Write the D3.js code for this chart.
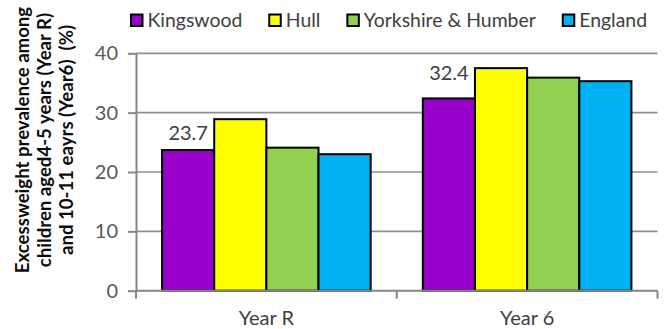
<!DOCTYPE html>
<html>
<head>
<meta charset="utf-8">
<script src="https://cdn.jsdelivr.net/npm/d3@7"></script>
<style>
  html, body { margin: 0; padding: 0; background: #fff; }
  svg { display: block; font-family: Lato, "Open Sans", sans-serif; }
</style>
</head>
<body>
<svg id="chart" width="667" height="329"></svg>
<script>
// Excess weight prevalence by area, Reception (Year R) and Year 6
const categories = ["Year R", "Year 6"];
const seriesNames = ["Kingswood", "Hull", "Yorkshire & Humber", "England"];
const seriesColors = ["#9900cc", "#ffff00", "#92d050", "#00b0f0"];
const kingswood = [23.7, 32.4];
const hull = [28.9, 37.5];
const yorkshireHumber = [24.1, 35.9];
const england = [23.0, 35.3];
const yTicks = [0, 10, 20, 30, 40];
const yTitleLines = [
  "Excessweight prevalence among",
  "children aged4-5 years (Year R)",
  "and 10-11 eayrs (Year6)  (%)"
];
// only the Kingswood series carries value labels
const labelledSeries = "Kingswood";

const seriesValues = [kingswood, hull, yorkshireHumber, england];
const rows = categories.map((c, i) => ({
  category: c,
  values: seriesNames.map((s, j) => ({ series: s, value: seriesValues[j][i], color: seriesColors[j] }))
}));

const svg = d3.select("#chart");
const plot = { left: 136, right: 657.5, top: 53.3, bottom: 290.7 };

const x0 = d3.scaleBand().domain(categories).range([plot.left, plot.right]).paddingInner(0).paddingOuter(0);
const x1 = d3.scaleBand().domain(seriesNames).range([0, x0.bandwidth()]).paddingInner(0).paddingOuter(0.5);
const y = d3.scaleLinear().domain([0, 40]).range([plot.bottom, plot.top]);

const axisGrey = "#868686";

// horizontal gridlines
svg.append("g")
  .selectAll("line")
  .data(yTicks.filter(t => t > 0))
  .join("line")
  .attr("x1", plot.left).attr("x2", plot.right)
  .attr("y1", d => y(d)).attr("y2", d => y(d))
  .attr("stroke", "#8f8f8f").attr("stroke-width", 1.7);

// value axis
const yAxis = svg.append("g")
  .attr("transform", `translate(${plot.left},0)`)
  .call(d3.axisLeft(y).tickValues(yTicks).tickSize(8).tickPadding(10).tickSizeOuter(0));
yAxis.select(".domain").attr("stroke", axisGrey).attr("stroke-width", 2);
yAxis.selectAll(".tick line").attr("stroke", axisGrey).attr("stroke-width", 2);
yAxis.selectAll(".tick text")
  .attr("font-family", "Lato, sans-serif").attr("font-size", 20).attr("fill", "#595959");

// bars
const groups = svg.append("g")
  .selectAll("g")
  .data(rows)
  .join("g")
  .attr("transform", d => `translate(${x0(d.category)},0)`);

groups.selectAll("rect")
  .data(d => d.values)
  .join("rect")
  .attr("x", d => x1(d.series))
  .attr("width", x1.bandwidth())
  .attr("y", d => y(d.value))
  .attr("height", d => y(0) - y(d.value))
  .attr("fill", d => d.color)
  .attr("stroke", "#000")
  .attr("stroke-width", 2);

// value labels above the Kingswood bars
const labelLift = { "Year R": 10, "Year 6": 18 };
groups.append("text")
  .datum(d => ({ category: d.category, v: d.values.find(v => v.series === labelledSeries) }))
  .attr("x", d => x1(d.v.series) + x1.bandwidth() / 2)
  .attr("y", d => y(d.v.value) - labelLift[d.category])
  .attr("text-anchor", "middle")
  .attr("font-size", 20)
  .attr("fill", "#404040")
  .text(d => d.v.value.toFixed(1));

// category axis
const xAxis = svg.append("g")
  .attr("transform", `translate(0,${plot.bottom})`);
xAxis.append("line")
  .attr("x1", plot.left).attr("x2", plot.right)
  .attr("stroke", axisGrey).attr("stroke-width", 2);
const boundaries = categories.map(c => x0(c)).concat([x0(categories[categories.length - 1]) + x0.bandwidth()]);
xAxis.selectAll("line.tick")
  .data(boundaries)
  .join("line")
  .attr("class", "tick")
  .attr("x1", d => d).attr("x2", d => d)
  .attr("y1", 0).attr("y2", 8)
  .attr("stroke", axisGrey).attr("stroke-width", 2);
xAxis.selectAll("text")
  .data(categories)
  .join("text")
  .attr("x", d => x0(d) + x0.bandwidth() / 2)
  .attr("y", 34.5)
  .attr("text-anchor", "middle")
  .attr("font-size", 20)
  .attr("fill", "#404040")
  .text(d => d);

// rotated value-axis title
const title = svg.append("text")
  .attr("transform", "translate(28.5,140) rotate(-90)")
  .attr("text-anchor", "middle")
  .attr("font-weight", 700)
  .attr("font-size", 18.6)
  .attr("fill", "#0d0d0d")
  .style("white-space", "pre");
title.selectAll("tspan")
  .data(yTitleLines)
  .join("tspan")
  .attr("x", 0)
  .attr("y", (d, i) => i * 22)
  .text(d => d);

// legend
const legend = svg.append("g").attr("transform", "translate(130,0)");
let cursor = 0;
seriesNames.forEach((name, i) => {
  const item = legend.append("g").attr("transform", `translate(${cursor},0)`);
  item.append("rect")
    .attr("x", 1).attr("y", 14.5)
    .attr("width", 11.5).attr("height", 11.5)
    .attr("fill", seriesColors[i])
    .attr("stroke", "#000").attr("stroke-width", 2);
  const t = item.append("text")
    .attr("x", 17.5).attr("y", 27)
    .attr("font-size", 19.4)
    .attr("fill", "#404040")
    .text(name);
  cursor += 17.5 + t.node().getComputedTextLength() + 26;
});
</script>
</body>
</html>
